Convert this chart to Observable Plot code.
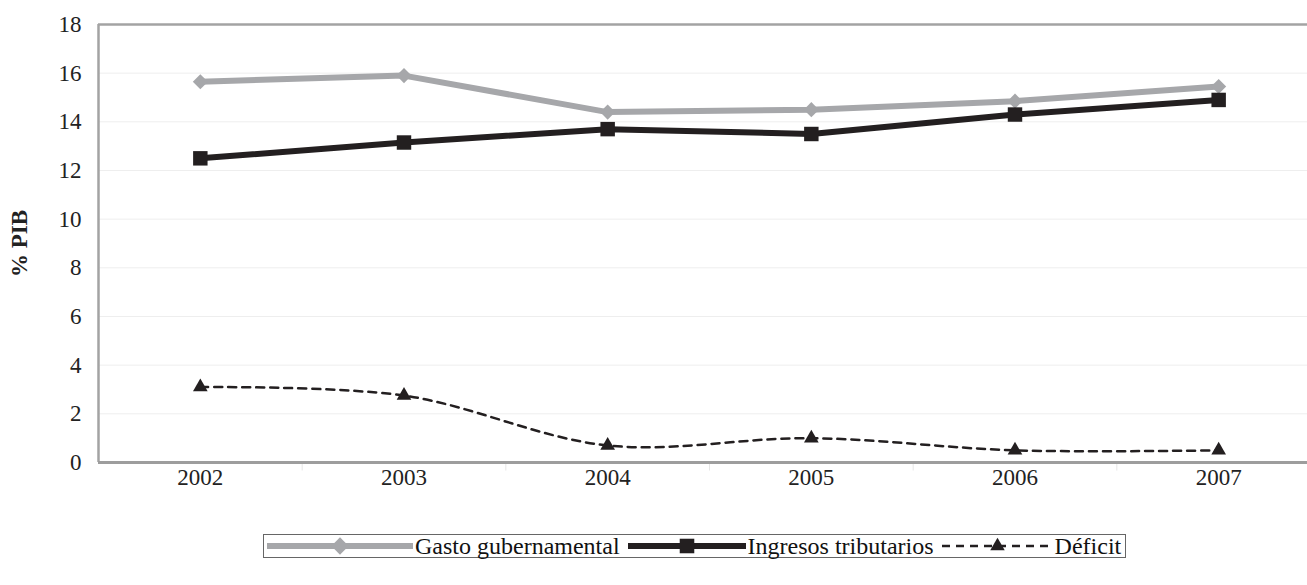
<!DOCTYPE html>
<html>
<head>
<meta charset="utf-8">
<script src="https://cdn.jsdelivr.net/npm/d3@7"></script>
<script src="https://cdn.jsdelivr.net/npm/@observablehq/plot@0.6"></script>
<style>
  html, body { margin: 0; padding: 0; background: #fff; }
  #wrap { position: relative; width: 1307px; height: 585px; font-family: "Liberation Serif", "Times New Roman", serif; }
  #wrap svg text { font-family: "Liberation Serif", "Times New Roman", serif; }
  #wrap svg [aria-label="y-axis label"] text { font-weight: bold; }
  #legend {
    position: absolute; left: 263px; top: 534px;
    display: flex; align-items: center; height: 22px;
    border: 1px solid #666; padding: 0 2px 0 1px;
    font-family: "Liberation Serif", "Times New Roman", serif; font-size: 24px; color: #111; white-space: nowrap;
  }
  #legend .item { display: flex; align-items: center; }
  #legend svg { display: block; }
</style>
</head>
<body>
<div id="wrap">
  <div id="chart"></div>
  <div id="legend"></div>
</div>
<script>
// Government spending, tax revenue and deficit, % of GDP
const years = [2002, 2003, 2004, 2005, 2006, 2007];
const gasto = [15.65, 15.9, 14.4, 14.5, 14.85, 15.45];
const ingresos = [12.5, 13.15, 13.7, 13.5, 14.3, 14.9];
const deficit = [3.1, 2.75, 0.7, 1.0, 0.5, 0.5];
const yTicks = [0, 2, 4, 6, 8, 10, 12, 14, 16, 18];

const seriesNames = ["Gasto gubernamental", "Ingresos tributarios", "Déficit"];
const grey = "#a6a7aa";
const dark = "#231f20";

const rows = years.map((year, i) => ({year, gasto: gasto[i], ingresos: ingresos[i], deficit: deficit[i]}));
const bounds = [years[0] - 0.5, years[years.length - 1] + 0.5];
const midYears = years.slice(0, -1).map(y => y + 0.5);

const chart = Plot.plot({
  width: 1307,
  height: 500,
  marginLeft: 98,
  marginRight: -13,
  marginTop: 24,
  marginBottom: 38,
  style: {fontFamily: "'Liberation Serif', 'Times New Roman', serif", fontSize: "23px", color: "#222", background: "#fff"},
  x: {domain: bounds},
  y: {domain: [0, 18]},
  marks: [
    Plot.ruleY(yTicks.filter(t => t > 0 && t < 18), {stroke: "#eeeeee", strokeWidth: 1}),
    Plot.ruleX(midYears, {y1: 0, y2: -0.35, stroke: "#e6e6e6", clip: false}),
    Plot.ruleY([18], {stroke: "#a3a3a3", strokeWidth: 2.5}),
    Plot.ruleX([bounds[0]], {stroke: "#a3a3a3", strokeWidth: 2.5}),
    Plot.ruleY([0], {stroke: "#9d9d9d", strokeWidth: 3}),
    Plot.axisX(years, {tickSize: 0, tickPadding: 6, tickFormat: d => String(d), label: null}),
    Plot.axisY(yTicks, {tickSize: 0, tickPadding: 17, label: "% PIB", labelAnchor: "center", labelArrow: "none", labelOffset: 88}),
    // Déficit: smoothed dashed line with triangle markers
    Plot.line(rows, {x: "year", y: "deficit", stroke: dark, strokeWidth: 2.5, strokeDasharray: "8,6", curve: "catmull-rom"}),
    Plot.dot(rows, {x: "year", y: "deficit", symbol: "triangle2", r: 7, fill: dark}),
    // Gasto gubernamental
    Plot.line(rows, {x: "year", y: "gasto", stroke: grey, strokeWidth: 6}),
    Plot.dot(rows, {x: "year", y: "gasto", symbol: "diamond2", r: 6.8, fill: grey}),
    // Ingresos tributarios
    Plot.line(rows, {x: "year", y: "ingresos", stroke: dark, strokeWidth: 6}),
    Plot.dot(rows, {x: "year", y: "ingresos", symbol: "square2", r: 9.2, fill: dark})
  ]
});
document.getElementById("chart").appendChild(chart);

// Legend below the chart
const legendSpec = [
  {name: seriesNames[0], width: 150, stroke: grey, sw: 6, dash: null, symbol: d3.symbolDiamond2, size: 190},
  {name: seriesNames[1], width: 122, stroke: dark, sw: 6, dash: null, symbol: d3.symbolSquare2, size: 270},
  {name: seriesNames[2], width: 115, stroke: dark, sw: 2.5, dash: "8,6", symbol: d3.symbolTriangle2, size: 150}
];
const legend = d3.select("#legend");
legendSpec.forEach((s, i) => {
  const item = legend.append("div").attr("class", "item");
  const svg = item.append("svg").attr("width", s.width).attr("height", 22);
  svg.append("line")
    .attr("x1", 2).attr("x2", s.width - 2).attr("y1", 11).attr("y2", 11)
    .attr("stroke", s.stroke).attr("stroke-width", s.sw)
    .attr("stroke-dasharray", s.dash);
  svg.append("path")
    .attr("transform", `translate(${s.width / 2},11)`)
    .attr("d", d3.symbol(s.symbol, s.size)())
    .attr("fill", s.stroke);
  item.append("span").text(s.name).style("margin-right", i < legendSpec.length - 1 ? "6px" : "2px");
});
</script>
</body>
</html>
